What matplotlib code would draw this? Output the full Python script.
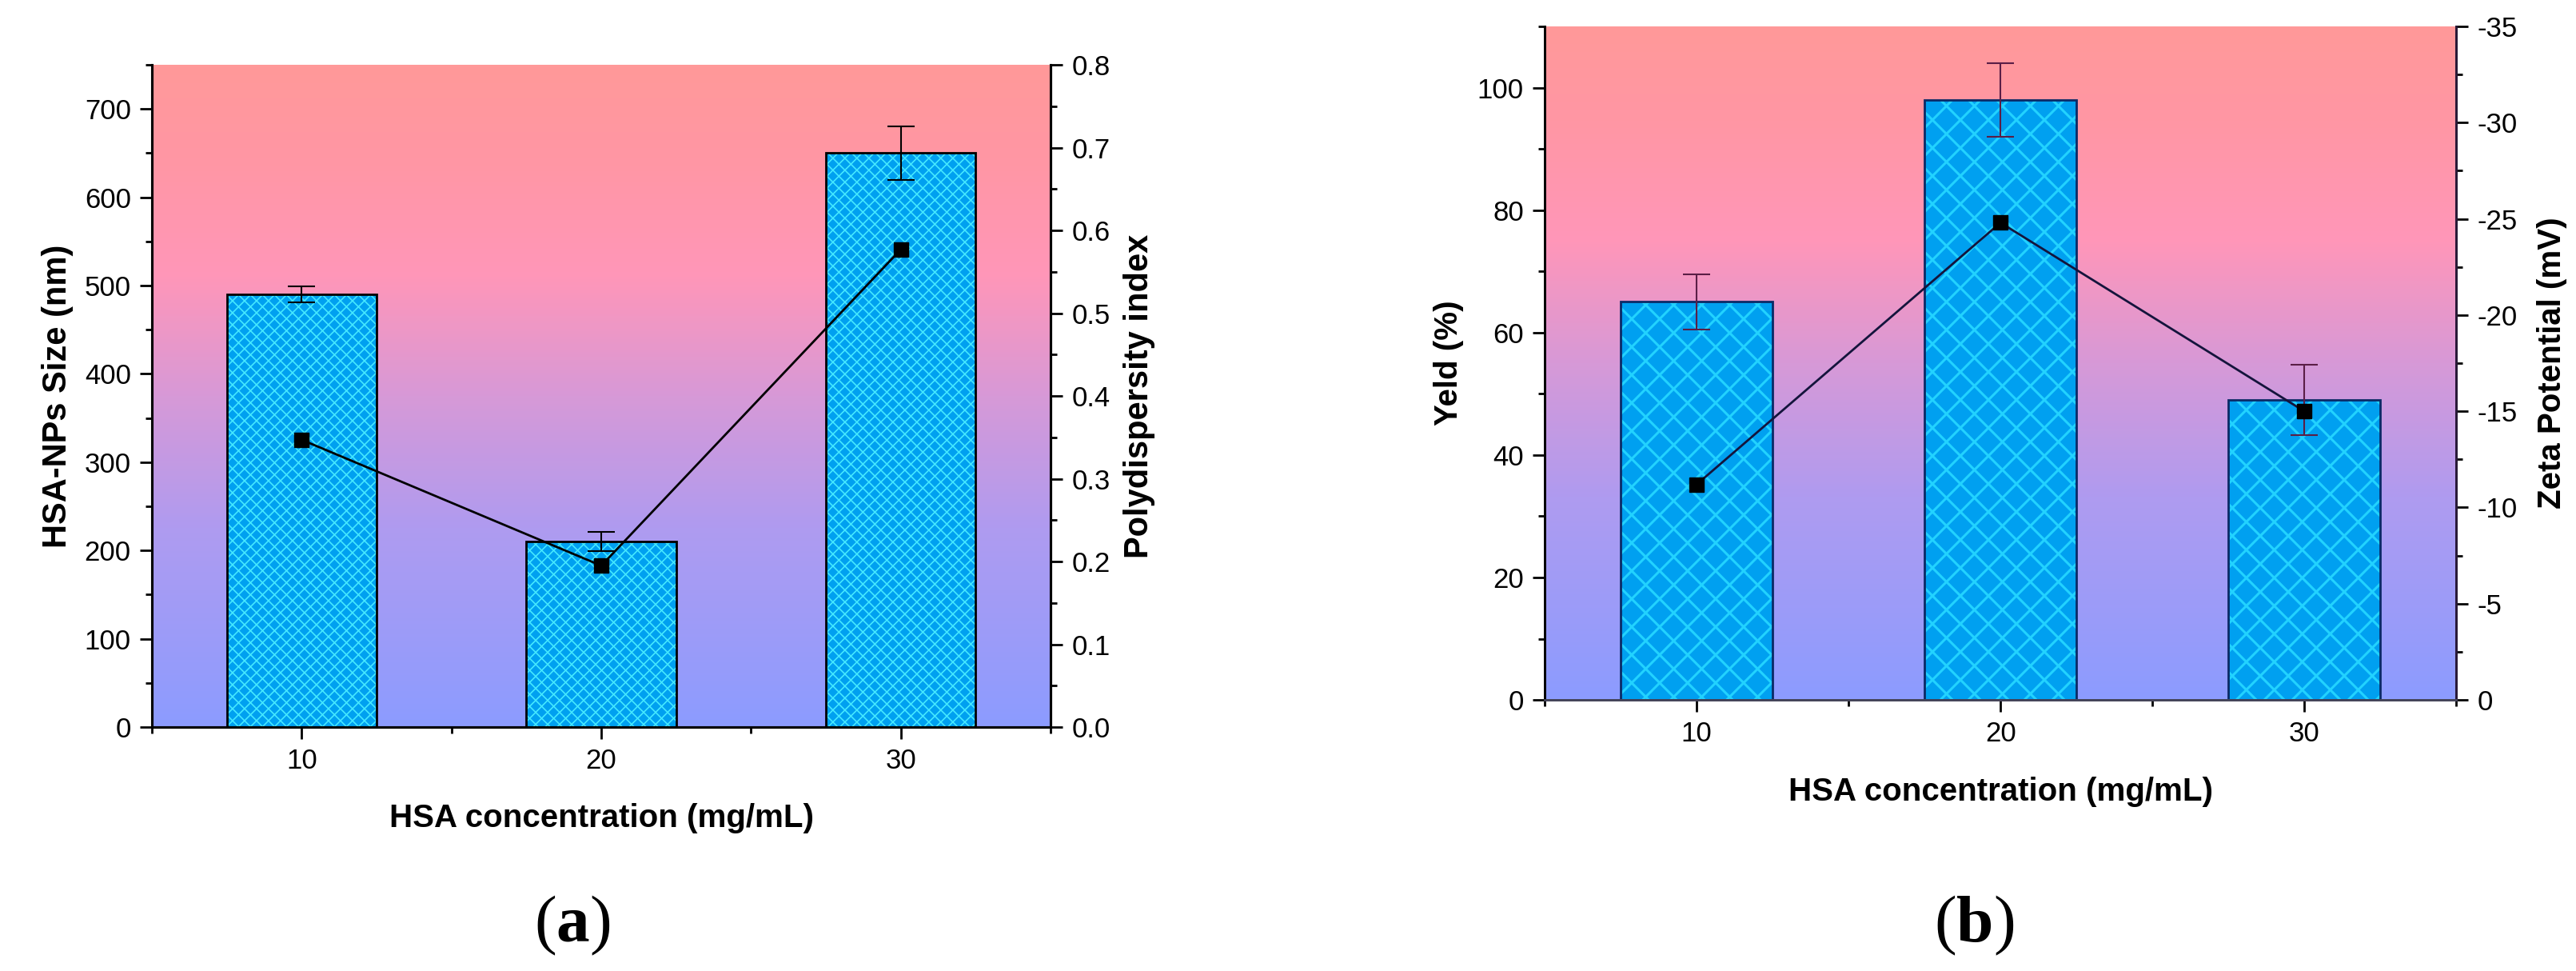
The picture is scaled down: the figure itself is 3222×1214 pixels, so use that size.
import numpy as np
import matplotlib
matplotlib.use('Agg')
import matplotlib.pyplot as plt
from matplotlib.colors import LinearSegmentedColormap
from matplotlib.collections import LineCollection
from matplotlib.transforms import IdentityTransform
from matplotlib.ticker import MultipleLocator, FormatStrFormatter

# data
conc = [10, 20, 30]
conc_labels = ['10', '20', '30']

size_nm = [490, 210, 650]
size_err = [9, 11, 30]
pdi = [0.347, 0.195, 0.577]

yield_pct = [65, 98, 49]
yield_err = [4.5, 6.0, 5.7]
zeta_mv = [-11.2, -24.8, -15.0]

plt.rcParams['font.family'] = ['Liberation Sans', 'DejaVu Sans']
plt.rcParams['axes.unicode_minus'] = False
plt.rcParams['mathtext.fontset'] = 'custom'
plt.rcParams['mathtext.rm'] = 'Liberation Serif'
plt.rcParams['mathtext.bf'] = 'Liberation Serif:bold'

bg_cmap = LinearSegmentedColormap.from_list('bg', [
    (0.0, '#8c9cff'), (0.3, '#af9bf0'), (0.5, '#d799d7'),
    (0.68, '#ff96b9'), (0.85, '#ff96a5'), (1.0, '#ff9999')])

BAR_COLOR = '#00a0f0'
TICK_FS = 25
LABEL_FS = 29


def paint_background(ax):
    grad = np.linspace(0, 1, 256).reshape(-1, 1)
    ax.imshow(grad, cmap=bg_cmap, origin='lower', aspect='auto',
              extent=[0, 1, 0, 1], transform=ax.transAxes, zorder=0)


def cross_hatch(ax, bars, spacing, color, lw):
    """draw an X pattern inside each bar, in pixel units"""
    for rect in bars:
        bb = rect.get_window_extent()
        h = bb.height
        segs = []
        c = bb.x0 - h
        while c < bb.x1 + h:
            segs.append([(c, bb.y0), (c + h, bb.y1)])
            segs.append([(c, bb.y1), (c + h, bb.y0)])
            c += spacing
        lc = LineCollection(segs, colors=color, linewidths=lw,
                            transform=IdentityTransform(), zorder=2)
        ax.add_collection(lc, autolim=False)
        lc.set_clip_path(rect.get_path(), rect.get_transform())


def style_axes(ax, ax2, lw):
    for a in (ax, ax2):
        a.spines['top'].set_visible(False)
        for s in ('left', 'right', 'bottom'):
            a.spines[s].set_linewidth(lw)
    for a in (ax, ax2):
        a.tick_params(which='major', direction='out', length=11, width=2,
                      labelsize=TICK_FS, pad=8)
        a.tick_params(which='minor', direction='out', length=5.5, width=2)
    ax.set_xticks(conc)
    ax.set_xticklabels(conc_labels)
    ax.xaxis.set_minor_locator(MultipleLocator(5))


fig = plt.figure(figsize=(32.23, 12.14), dpi=100)

# ---------------- panel (a) ----------------
axa = fig.add_axes([0.0590, 0.2512, 0.3487, 0.682])
axa2 = axa.twinx()
paint_background(axa)
axa.set_xlim(5, 35)
axa.set_ylim(0, 750)
axa2.set_ylim(0, 0.8)

bars_a = axa.bar(conc, size_nm, width=5, color=BAR_COLOR, linewidth=0, zorder=1)
cross_hatch(axa, bars_a, 15, '#45e8ff', 1.2)
axa.bar(conc, size_nm, width=5, fill=False, edgecolor='black', linewidth=2, zorder=3)
axa.errorbar(conc, size_nm, yerr=size_err, fmt='none', ecolor='black',
             elinewidth=1.5, capsize=12, capthick=1.5, zorder=4)
axa2.plot(conc, pdi, '-s', color='black', lw=2, ms=13, zorder=5)

axa.yaxis.set_major_locator(MultipleLocator(100))
axa.yaxis.set_minor_locator(MultipleLocator(50))
axa2.yaxis.set_major_locator(MultipleLocator(0.1))
axa2.yaxis.set_minor_locator(MultipleLocator(0.05))
axa2.yaxis.set_major_formatter(FormatStrFormatter('%.1f'))
style_axes(axa, axa2, 2.2)

axa.set_ylabel('HSA-NPs Size (nm)', fontsize=30, fontweight='bold', va='center')
axa.yaxis.set_label_coords(-0.105, 0.5)
axa2.set_ylabel('Polydispersity index', fontsize=30, fontweight='bold', va='center')
axa2.yaxis.set_label_coords(1.099, 0.5)
axa.set_xlabel('HSA concentration (mg/mL)', fontsize=LABEL_FS, fontweight='bold', va='center')
axa.xaxis.set_label_coords(0.5, -0.138)

# ---------------- panel (b) ----------------
axb = fig.add_axes([0.5995, 0.2792, 0.3537, 0.6936])
axb2 = axb.twinx()
paint_background(axb)
axb.set_xlim(5, 35)
axb.set_ylim(0, 110)
axb2.set_ylim(0, -35)

bars_b = axb.bar(conc, yield_pct, width=5, color=BAR_COLOR, linewidth=0, zorder=1)
cross_hatch(axb, bars_b, 35, '#22d2ff', 2.2)
axb.bar(conc, yield_pct, width=5, fill=False, edgecolor='#0b2a66', linewidth=2, zorder=3)
axb.errorbar(conc, yield_pct, yerr=yield_err, fmt='none', ecolor='#5a1e46',
             elinewidth=1.5, capsize=12, capthick=1.5, zorder=4)
axb2.plot(conc, zeta_mv, '-s', color='#14143c', lw=2, ms=13, mfc='black', mec='black', zorder=5)

axb.yaxis.set_major_locator(MultipleLocator(20))
axb.yaxis.set_minor_locator(MultipleLocator(10))
axb2.yaxis.set_major_locator(MultipleLocator(5))
axb2.yaxis.set_minor_locator(MultipleLocator(2.5))
style_axes(axb, axb2, 2.0)
axb.spines['bottom'].set_color('#45455a')
axb2.spines['bottom'].set_color('#45455a')
axb2.spines['right'].set_color('#2a1a3a')

axb.set_ylabel('Yeld (%)', fontsize=LABEL_FS, fontweight='bold', va='center')
axb.yaxis.set_label_coords(-0.105, 0.5)
axb2.set_ylabel('Zeta Potential (mV)', fontsize=LABEL_FS, fontweight='bold', va='center')
axb2.yaxis.set_label_coords(1.105, 0.5)
axb.set_xlabel('HSA concentration (mg/mL)', fontsize=LABEL_FS, fontweight='bold', va='center')
axb.xaxis.set_label_coords(0.5, -0.137)

# panel letters
fig.text(716 / 3223, 1 - 1157 / 1214, r'($\mathbf{a}$)', family='Liberation Serif',
         fontsize=60, ha='center', va='center')
fig.text(2469 / 3223, 1 - 1157 / 1214, r'($\mathbf{b}$)', family='Liberation Serif',
         fontsize=60, ha='center', va='center')

fig.savefig('out.png', dpi=100)
